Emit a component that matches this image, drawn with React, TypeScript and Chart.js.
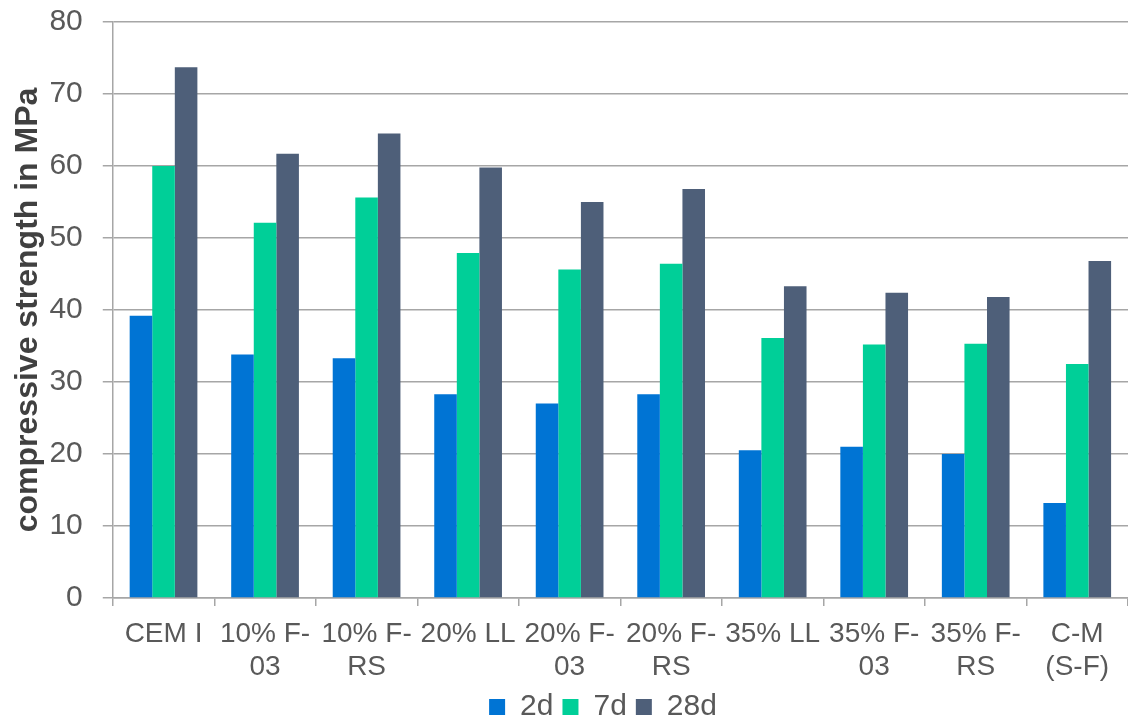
import React, { useEffect, useRef } from "react";
import { Chart, registerables } from "chart.js";

Chart.register(...registerables);

const categories: (string | string[])[] = [
  "CEM I",
  ["10% F-", "03"],
  ["10% F-", "RS"],
  "20% LL",
  ["20% F-", "03"],
  ["20% F-", "RS"],
  "35% LL",
  ["35% F-", "03"],
  ["35% F-", "RS"],
  ["C-M", "(S-F)"],
];

const values2d = [39.2, 33.8, 33.3, 28.3, 27.0, 28.3, 20.5, 21.0, 20.0, 13.2];
const values7d = [60.0, 52.1, 55.6, 47.9, 45.6, 46.4, 36.1, 35.2, 35.3, 32.5];
const values28d = [73.7, 61.7, 64.5, 59.8, 55.0, 56.8, 43.3, 42.4, 41.8, 46.8];

const seriesNames = ["2d", "7d", "28d"];
const seriesColors = ["#0074D4", "#00CF98", "#4E5F79"];

const yTitle = "compressive strength in MPa";

const legendShift = {
  id: "legendShift",
  afterLayout(chart: any) {
    const lg = chart.legend;
    if (lg) {
      lg.left += 33;
      lg.right += 33;
      lg.top -= 13;
      lg.bottom -= 13;
    }
  },
};

export default function App() {
  const ref = useRef<HTMLCanvasElement | null>(null);

  useEffect(() => {
    if (!ref.current) return;
    const font = "'Liberation Sans', Arial, sans-serif";
    const chart = new Chart(ref.current, {
      type: "bar",
      data: {
        labels: categories,
        datasets: [values2d, values7d, values28d].map((d, i) => ({
          label: seriesNames[i],
          data: d,
          backgroundColor: seriesColors[i],
          borderWidth: 0,
          categoryPercentage: 0.667,
          barPercentage: 1.0,
        })),
      },
      plugins: [legendShift],
      options: {
        responsive: false,
        animation: false,
        layout: { padding: { top: 0, right: -7, left: 5, bottom: -25 } },
        plugins: {
          legend: {
            position: "bottom",
            labels: {
              boxWidth: 16,
              boxHeight: 16,
              padding: 9,
              color: "#595959",
              font: { family: font, size: 30 },
            },
          },
          tooltip: { enabled: false },
        },
        scales: {
          x: {
            grid: {
              drawOnChartArea: false,
              drawTicks: true,
              tickLength: 8,
              color: "#A6A6A6",
              lineWidth: 1.5,
              offset: true,
            },
            border: { color: "#A6A6A6", width: 1.5 },
            ticks: {
              color: "#595959",
              maxRotation: 0,
              autoSkip: false,
              padding: 12,
              font: { family: font, size: 28, lineHeight: 1.18 },
            },
          },
          y: {
            min: 0,
            max: 80,
            ticks: {
              stepSize: 10,
              color: "#595959",
              padding: 20,
              font: { family: font, size: 30, lineHeight: 0.13 },
            },
            grid: {
              color: "#A6A6A6",
              lineWidth: 1.5,
              tickLength: 10,
            },
            border: { color: "#A6A6A6", width: 1.5 },
            title: {
              display: true,
              text: yTitle,
              color: "#404040",
              padding: { top: 4, bottom: -18 },
              font: { family: font, size: 32, weight: "bold" },
            },
          },
        },
      },
    });
    return () => chart.destroy();
  }, []);

  return (
    <div style={{ position: "fixed", left: 0, top: 0, width: 1128, height: 720, background: "#fff" }}>
      <canvas ref={ref} width={1128} height={720} style={{ width: 1128, height: 720 }} />
    </div>
  );
}
